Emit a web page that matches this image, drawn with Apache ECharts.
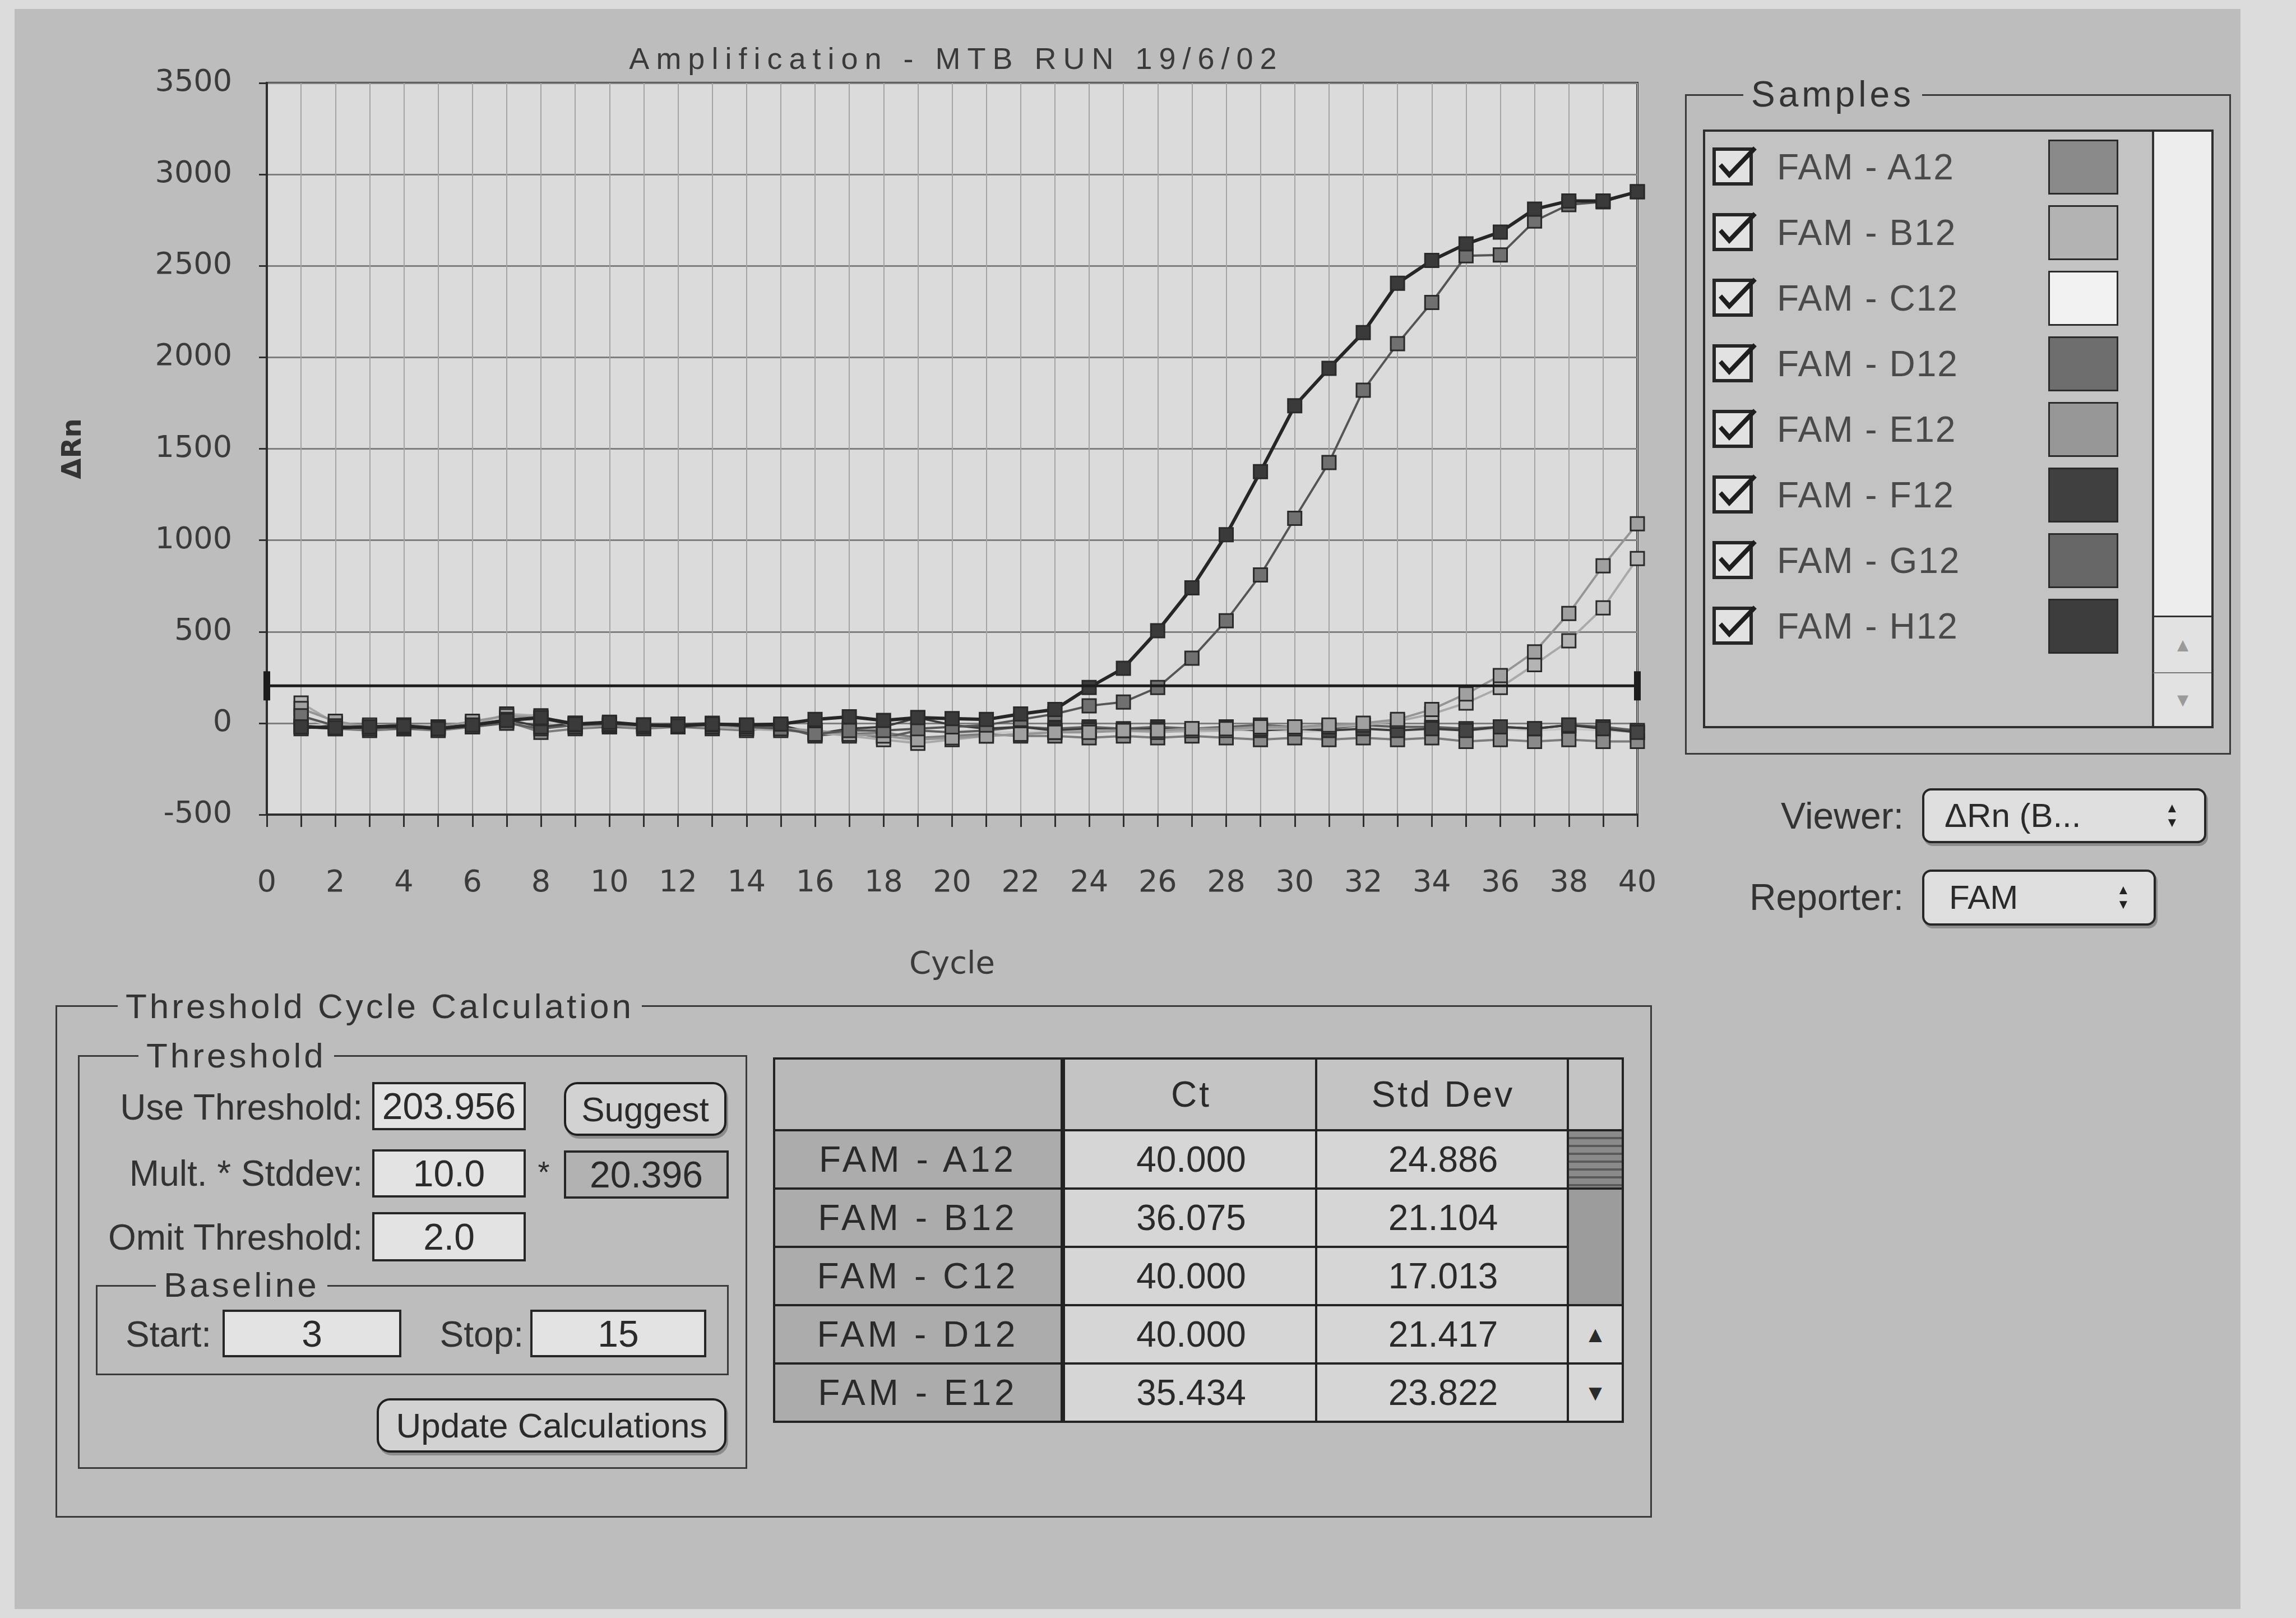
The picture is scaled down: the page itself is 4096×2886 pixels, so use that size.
<!DOCTYPE html>
<html>
<head>
<meta charset="utf-8">
<title>Amplification - MTB RUN 19/6/02</title>
<script src="https://cdn.jsdelivr.net/npm/echarts@6/dist/echarts.min.js"></script>
<style>
html, body { margin: 0; padding: 0; }
body {
  width: 4096px; height: 2886px; position: relative; overflow: hidden;
  background: #dcdcdc; color: #2c2c2c;
  font-family: "Liberation Sans", Arial, sans-serif;
}
#panel { position: absolute; left: 26px; top: 16px; width: 3971px; height: 2854px; background: #bdbdbd; }
#chart { position: absolute; left: 0; top: 0; width: 4096px; height: 2886px; }
.a { position: absolute; box-sizing: border-box; white-space: nowrap; }
.c { display: flex; align-items: center; justify-content: center; }
.group { border: 3px solid #3a3a3a; }
.legend { background: #bdbdbd; padding: 0 14px; height: 70px; line-height: 70px; font-size: 62px; letter-spacing: 5px; color: #333; }
.lbl { width: 600px; height: 70px; line-height: 70px; font-size: 64px; text-align: right; color: #333; }
.field { border: 4px solid #262626; background: #e3e3e3; font-size: 66px; color: #2a2a2a; }
.btn { border: 4px solid #202020; border-radius: 24px; background: #d2d2d2; box-shadow: 3px 5px 0 #8c8c8c; font-size: 62px; color: #2a2a2a; }
.popup { border: 4px solid #262626; border-radius: 16px; background: #dedede; box-shadow: 3px 5px 0 #8c8c8c; font-size: 60px; color: #2a2a2a; }
.arrows { display: flex; flex-direction: column; align-items: center; font-size: 24px; line-height: 26px; color: #222; }
.cell { border: 4px solid #232323; font-size: 64px; color: #2a2a2a; }
</style>
</head>
<body>
<div id="panel"></div>
<div id="chart"></div>
<div class="a" style="left:1000px;top:69px;width:1412px;height:70px;line-height:70px;text-align:center;font-size:54px;letter-spacing:12px;color:#3a3a3a">Amplification - MTB RUN 19/6/02</div>

<!-- Samples -->
<div class="a group" style="left:3006px;top:168px;width:974px;height:1178px"></div>
<div class="a legend" style="left:3110px;top:133px;font-size:64px;letter-spacing:6px">Samples</div>
<div class="a" style="left:3038px;top:231px;width:911px;height:1068px;border:4px solid #2e2e2e;background:#c3c3c3"></div>
<div class="a" style="left:3839px;top:235px;width:106px;height:866px;background:#ededed;border-left:4px solid #333;border-bottom:3px solid #333"></div>
<div class="a c" style="left:3839px;top:1101px;width:106px;height:100px;background:#e2e2e2;border-left:4px solid #333;border-bottom:2px solid #777;color:#9a9a9a;font-size:34px">▲</div>
<div class="a c" style="left:3839px;top:1201px;width:106px;height:94px;background:#e2e2e2;border-left:4px solid #333;color:#9a9a9a;font-size:34px">▼</div>

<!-- Viewer / Reporter -->
<div class="a lbl" style="left:2796px;top:1420px;font-size:66px">Viewer:</div>
<div class="a popup" style="left:3429px;top:1406px;width:507px;height:98px;padding-left:36px;line-height:90px">ΔRn (B...</div>
<div class="a arrows" style="left:3858px;top:1428px;width:34px"><span>▲</span><span>▼</span></div>
<div class="a lbl" style="left:2796px;top:1565px;font-size:66px">Reporter:</div>
<div class="a popup" style="left:3429px;top:1551px;width:417px;height:100px;padding-left:44px;line-height:92px">FAM</div>
<div class="a arrows" style="left:3771px;top:1574px;width:34px"><span>▲</span><span>▼</span></div>

<!-- Threshold Cycle Calculation -->
<div class="a group" style="left:99px;top:1793px;width:2848px;height:914px"></div>
<div class="a legend" style="left:210px;top:1760px">Threshold Cycle Calculation</div>
<div class="a group" style="left:139px;top:1882px;width:1194px;height:738px"></div>
<div class="a legend" style="left:247px;top:1848px">Threshold</div>

<div class="a lbl" style="left:47px;top:1940px">Use Threshold:</div>
<div class="a field c" style="left:664px;top:1930px;width:274px;height:86px">203.956</div>
<div class="a btn c" style="left:1006px;top:1930px;width:290px;height:96px">Suggest</div>

<div class="a lbl" style="left:47px;top:2058px">Mult. * Stddev:</div>
<div class="a field c" style="left:664px;top:2050px;width:274px;height:86px">10.0</div>
<div class="a c" style="left:950px;top:2060px;width:40px;height:60px;font-size:54px">*</div>
<div class="a field c" style="left:1006px;top:2052px;width:294px;height:86px;background:#b2b2b2">20.396</div>

<div class="a lbl" style="left:47px;top:2172px">Omit Threshold:</div>
<div class="a field c" style="left:664px;top:2162px;width:274px;height:88px">2.0</div>

<div class="a group" style="left:171px;top:2292px;width:1129px;height:161px"></div>
<div class="a legend" style="left:278px;top:2257px">Baseline</div>
<div class="a lbl" style="left:-223px;top:2345px">Start:</div>
<div class="a field c" style="left:397px;top:2336px;width:319px;height:85px">3</div>
<div class="a lbl" style="left:334px;top:2345px">Stop:</div>
<div class="a field c" style="left:946px;top:2336px;width:314px;height:85px">15</div>

<div class="a btn c" style="left:672px;top:2494px;width:624px;height:97px">Update Calculations</div>

<div id="ui"></div>

<script>
// cycles 1..40
const cycles = [1, 2, 3, 4, 5, 6, 7, 8, 9, 10, 11, 12, 13, 14, 15, 16, 17, 18, 19, 20,
  21, 22, 23, 24, 25, 26, 27, 28, 29, 30, 31, 32, 33, 34, 35, 36, 37, 38, 39, 40];

// delta Rn per sample
const rnA12 = [-10, -30, -40, -30, -40, -20, 10, -50, -30, -20, -30, -20, -30, -40, -20, -50, -60, -50, -80, -70,
  -60, -70, -70, -80, -70, -80, -70, -80, -90, -80, -90, -80, -90, -80, -100, -90, -100, -90, -100, -100];
const rnB12 = [110, 0, -30, -20, -30, -10, 50, 40, -20, -10, -20, -10, -20, -30, -40, -50, -70, -90, -110, -90,
  -70, -60, -50, -40, -40, -50, -40, -40, -30, -30, -20, -10, 10, 50, 110, 195, 320, 450, 630, 900];
const rnC12 = [30, -20, -10, -30, -20, 0, 30, 10, -20, 0, -10, -20, -10, -30, -20, -40, -60, -70, -100, -60,
  -50, -50, -40, -40, -50, -40, -50, -40, -30, -50, -40, -30, -20, -30, -40, -30, -40, -30, -40, -50];
const rnD12 = [-30, -10, -20, -10, -30, -20, 0, -30, -10, -20, -10, -20, -20, -10, -20, -70, -50, -80, -40, -50,
  -40, -20, -30, -20, -30, -20, -30, -20, -10, -20, -30, -10, -20, -20, -30, -20, -30, -10, -20, -40];
const rnE12 = [80, 10, -20, -10, -20, 10, 40, 30, 0, -10, -20, -15, -10, -20, -30, -40, -60, -70, -90, -80,
  -70, -60, -50, -50, -40, -40, -30, -30, -20, -20, -10, 0, 20, 75, 160, 260, 390, 600, 860, 1090];
const rnF12 = [-20, -30, -20, -30, -20, -10, 20, -20, 0, -10, -20, -10, -10, -20, -10, -60, -30, -20, 30, -10,
  -30, -20, -40, -30, -40, -30, -40, -30, -40, -30, -40, -30, -40, -30, -40, -20, -30, -10, -30, -50];
const rnG12 = [40, -15, -30, -20, -25, -20, 20, 25, -10, -5, -10, -5, 0, -20, -30, -60, -40, -40, -30, -20,
  -10, 20, 50, 95, 115, 195, 355, 560, 810, 1120, 1425, 1820, 2075, 2300, 2555, 2560, 2745, 2835, 2850, 2905];
const rnH12 = [-20, -25, -20, -15, -30, -10, 15, 30, -5, 5, -10, -15, -5, -10, -5, 20, 35, 15, 30, 25,
  20, 50, 75, 195, 300, 505, 740, 1030, 1375, 1735, 1940, 2135, 2405, 2530, 2620, 2685, 2810, 2855, 2855, 2905];

const THRESHOLD = 203.956;

const sampleNames = ['FAM - A12', 'FAM - B12', 'FAM - C12', 'FAM - D12', 'FAM - E12', 'FAM - F12', 'FAM - G12', 'FAM - H12'];
const sampleColors = ['#8a8a8a', '#b3b3b3', '#f2f2f2', '#6e6e6e', '#979797', '#404040', '#676767', '#3d3d3d'];

// Ct table
const tableRows = ['FAM - A12', 'FAM - B12', 'FAM - C12', 'FAM - D12', 'FAM - E12'];
const ctValues = ['40.000', '36.075', '40.000', '40.000', '35.434'];
const stdDevValues = ['24.886', '21.104', '17.013', '21.417', '23.822'];

const ui = document.getElementById('ui');
function el(cls, style, html) {
  const d = document.createElement('div');
  d.className = 'a ' + cls;
  d.setAttribute('style', style);
  d.innerHTML = html || '';
  ui.appendChild(d);
  return d;
}

// sample list
const checkSvg = '<svg width="82" height="78" viewBox="0 0 82 78">' +
  '<rect x="3" y="10" width="66" height="62" fill="#e2e2e2" stroke="#262626" stroke-width="6"/>' +
  '<path d="M14 38 L30 56 L76 8" fill="none" stroke="#1e1e1e" stroke-width="8"/></svg>';
sampleNames.forEach((name, i) => {
  const cy = 298 + 117 * i;
  el('', `left:3055px;top:${cy - 42}px;width:82px;height:78px`, checkSvg);
  el('', `left:3170px;top:${cy - 35}px;height:70px;line-height:70px;font-size:64px;letter-spacing:2px;color:#4a4a4a`, name);
  el('', `left:3654px;top:${cy - 49}px;width:125px;height:98px;border:3px solid #2a2a2a;background:${sampleColors[i]}`);
});

// Ct table
const colX = [1379, 1896, 2350, 2799];
const colW = [517, 458, 453, 98];
const headTop = 1886, headH = 132, rowH = 104;
el('cell', `left:${colX[0]}px;top:${headTop}px;width:${colW[0]}px;height:${headH}px;background:#b9b9b9`);
el('cell c', `left:${colX[1]}px;top:${headTop}px;width:${colW[1]}px;height:${headH}px;background:#c4c4c4;letter-spacing:4px`, 'Ct');
el('cell c', `left:${colX[2] - 4}px;top:${headTop}px;width:${colW[2] + 4}px;height:${headH}px;background:#c4c4c4;letter-spacing:4px`, 'Std Dev');
el('cell', `left:${colX[3] - 4}px;top:${headTop}px;width:${colW[3] + 4}px;height:${headH}px;background:#c4c4c4`);
tableRows.forEach((name, i) => {
  const y = headTop + headH - 4 + rowH * i;
  el('cell c', `left:${colX[0]}px;top:${y}px;width:${colW[0]}px;height:${rowH + 4}px;background:#acacac;letter-spacing:6px`, name);
  el('cell c', `left:${colX[1]}px;top:${y}px;width:${colW[1]}px;height:${rowH + 4}px;background:#d6d6d6`, ctValues[i]);
  el('cell c', `left:${colX[2] - 4}px;top:${y}px;width:${colW[2] + 4}px;height:${rowH + 4}px;background:#d6d6d6`, stdDevValues[i]);
});
const sy = headTop + headH - 4;
el('cell', `left:${colX[3] - 4}px;top:${sy}px;width:${colW[3] + 4}px;height:${rowH + 4}px;background:repeating-linear-gradient(#8a8a8a 0 10px, #5a5a5a 10px 14px)`);
el('cell', `left:${colX[3] - 4}px;top:${sy + rowH}px;width:${colW[3] + 4}px;height:${rowH * 2 + 4}px;background:#9c9c9c`);
el('cell c', `left:${colX[3] - 4}px;top:${sy + rowH * 3}px;width:${colW[3] + 4}px;height:${rowH + 4}px;background:#d8d8d8;font-size:40px`, '▲');
el('cell c', `left:${colX[3] - 4}px;top:${sy + rowH * 4}px;width:${colW[3] + 4}px;height:${rowH + 4}px;background:#d8d8d8;font-size:40px`, '▼');

// amplification plot
const chart = echarts.init(document.getElementById('chart'));

function curve(name, vals, line, fill, width, z) {
  return {
    name: name,
    type: 'line',
    data: cycles.map((c, i) => [c, vals[i]]),
    symbol: 'rect',
    symbolSize: 24,
    lineStyle: { color: line, width: width },
    itemStyle: { color: fill, borderColor: '#2a2a2a', borderWidth: 3 },
    z: z
  };
}

const axisText = { color: '#3b3b3b', fontFamily: 'DejaVu Sans', fontSize: 54 };

chart.setOption({
  animation: false,
  grid: {
    left: 476, top: 148, width: 2445, height: 1305,
    show: true, backgroundColor: '#dbdbdb', borderColor: '#2e2e2e', borderWidth: 4
  },
  xAxis: {
    type: 'value', min: 0, max: 40, interval: 1,
    name: 'Cycle', nameLocation: 'middle', nameGap: 240,
    nameTextStyle: { color: '#3b3b3b', fontFamily: 'DejaVu Sans', fontSize: 56 },
    axisLine: { onZero: false, lineStyle: { color: '#2e2e2e', width: 4 } },
    axisTick: { length: 22, lineStyle: { color: '#2e2e2e', width: 3 } },
    axisLabel: Object.assign({ margin: 96, formatter: v => (v % 2 === 0 ? String(v) : '') }, axisText),
    splitLine: { lineStyle: { color: '#a4a4a4', width: 2 } }
  },
  yAxis: {
    type: 'value', min: -500, max: 3500, interval: 500,
    name: 'ΔRn', nameLocation: 'middle', nameGap: 320,
    nameTextStyle: { color: '#333', fontFamily: 'DejaVu Sans', fontSize: 48, fontWeight: 'bold' },
    axisLine: { show: true, lineStyle: { color: '#2e2e2e', width: 4 } },
    axisTick: { show: true, length: 14, lineStyle: { color: '#2e2e2e', width: 3 } },
    axisLabel: Object.assign({ margin: 62, formatter: v => String(v) }, axisText),
    splitLine: { lineStyle: { color: '#7e7e7e', width: 3 } }
  },
  series: [
    curve('FAM - C12', rnC12, '#c8c8c8', '#ececec', 4, 2),
    curve('FAM - A12', rnA12, '#7c7c7c', '#8a8a8a', 4, 2),
    curve('FAM - D12', rnD12, '#5e5e5e', '#6e6e6e', 4, 2),
    curve('FAM - F12', rnF12, '#3c3c3c', '#444444', 4, 2),
    curve('FAM - B12', rnB12, '#a9a9a9', '#b4b4b4', 4, 3),
    curve('FAM - E12', rnE12, '#959595', '#a0a0a0', 4, 3),
    curve('FAM - G12', rnG12, '#555555', '#707070', 4, 4),
    curve('FAM - H12', rnH12, '#262626', '#3a3a3a', 6, 5),
    {
      name: 'Threshold',
      type: 'line',
      data: [[0, THRESHOLD], [40, THRESHOLD]],
      symbol: 'rect',
      symbolSize: [12, 52],
      lineStyle: { color: '#1c1c1c', width: 5 },
      itemStyle: { color: '#1c1c1c' },
      z: 6
    }
  ]
});
</script>
</body>
</html>
